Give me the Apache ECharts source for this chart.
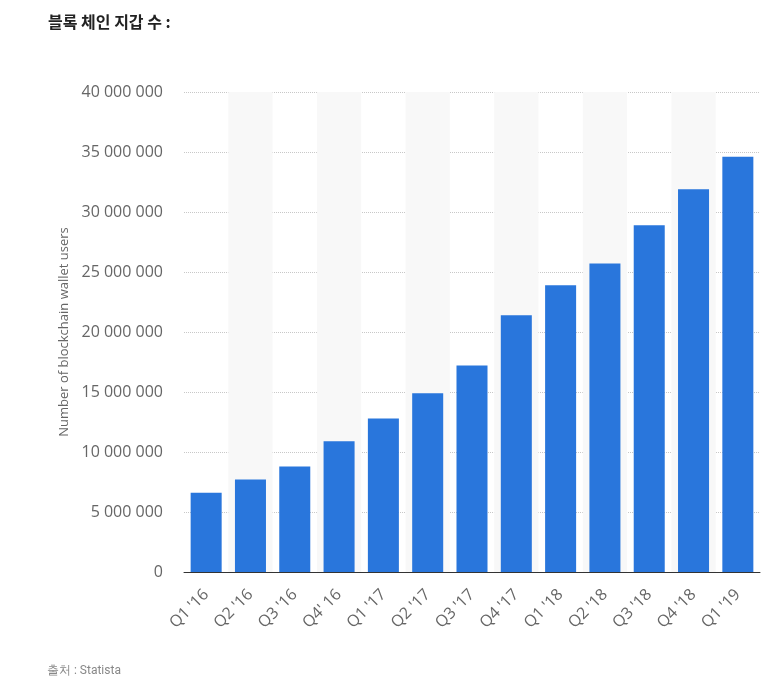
<!DOCTYPE html>
<html>
<head>
<meta charset="utf-8">
<script src="https://cdn.jsdelivr.net/npm/echarts@6/dist/echarts.min.js"></script>
<style>
html,body{margin:0;padding:0;background:#fff;}
#chart{width:782px;height:691px;}
</style>
</head>
<body>
<div id="chart"></div>
<script>
var categories = ["Q1 '16","Q2 '16","Q3 '16","Q4' 16","Q1 '17","Q2 '17","Q3 '17","Q4 '17","Q1 '18","Q2 '18","Q3 '18","Q4 '18","Q1 '19"];
var walletUsers = [6600000,7700000,8800000,10900000,12800000,14900000,17200000,21400000,23900000,25700000,28900000,31900000,34600000];
var titleText = "블록 체인 지갑 수 :";
var sourceText = "출처 : Statista";
var yAxisName = "Number of blockchain wallet users";

function fmt(v){
  return String(v).replace(/\B(?=(\d{3})+(?!\d))/g, ' ');
}

var chart = echarts.init(document.getElementById('chart'));
chart.setOption({
  backgroundColor: '#ffffff',
  animation: false,
  title: [
    {text: titleText, left: 43, top: 9, textStyle: {fontFamily: 'Noto Sans CJK KR', fontSize: 16, fontWeight: 'bold', color: '#222'}},
    {text: sourceText, left: 42, top: 660, textStyle: {fontFamily: 'Roboto', fontSize: 12, fontWeight: 'normal', color: '#888'}}
  ],
  grid: {left: 184, right: 22, top: 92, bottom: 119, containLabel: false},
  xAxis: {
    type: 'category',
    data: categories,
    axisLine: {show: true, lineStyle: {color: '#333', width: 1}},
    axisTick: {show: false},
    splitArea: {show: true, areaStyle: {color: ['rgba(255,255,255,0)', '#f8f8f8']}},
    axisLabel: {rotate: 45, margin: 20, fontFamily: 'Open Sans', fontSize: 16, color: '#666', interval: 0}
  },
  yAxis: {
    type: 'value',
    min: 0, max: 40000000, interval: 5000000,
    name: yAxisName,
    nameLocation: 'middle',
    nameGap: 113,
    nameTextStyle: {fontFamily: 'Open Sans', fontSize: 13, color: '#666'},
    axisLine: {show: false},
    axisTick: {show: false},
    splitLine: {show: true, lineStyle: {color: '#c8c8c8', type: [1, 1], width: 1}},
    axisLabel: {margin: 21, fontFamily: 'Open Sans', fontSize: 16, color: '#666', formatter: fmt}
  },
  series: [{
    type: 'bar',
    data: walletUsers,
    barWidth: '70%',
    itemStyle: {color: '#2976dc'}
  }]
});
</script>
</body>
</html>
